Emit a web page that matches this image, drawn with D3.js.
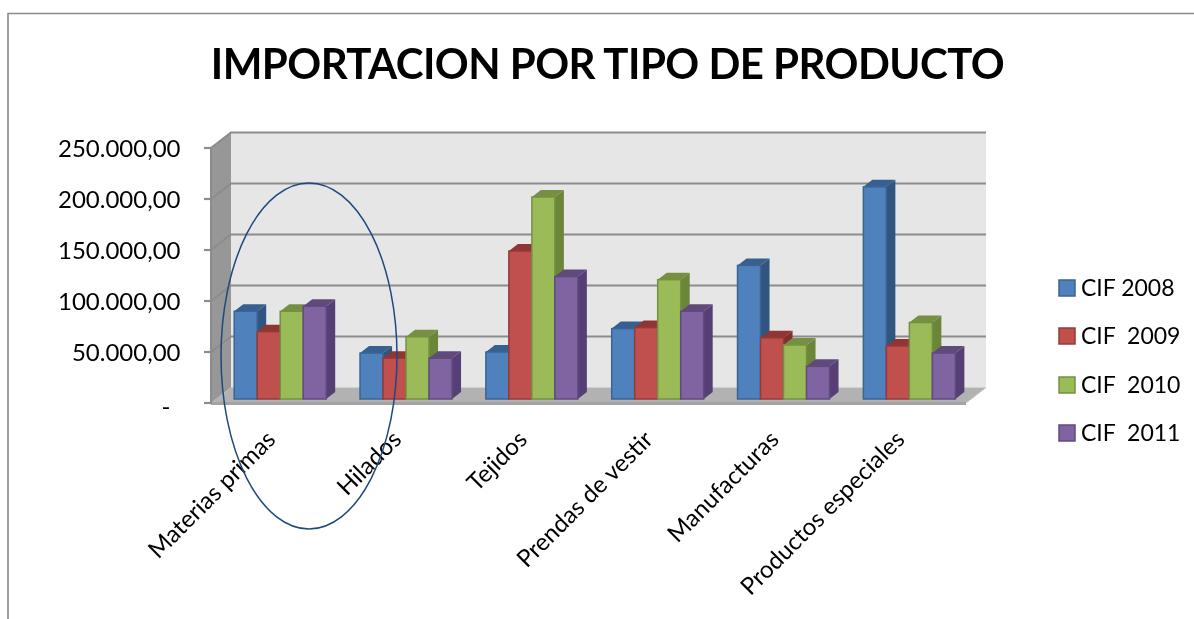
<!DOCTYPE html>
<html><head><meta charset="utf-8">
<script src="https://cdn.jsdelivr.net/npm/d3@7"></script>
<style>html,body{margin:0;background:#fff}svg{display:block;filter:blur(0.45px)}text{font-family:Lato,"Open Sans",sans-serif;fill:#000}</style>
</head><body><svg id="c" width="1194" height="619"></svg>
<script>
const categories=["Materias primas","Hilados","Tejidos","Prendas de vestir","Manufacturas","Productos especiales"];
const seriesNames=["CIF 2008","CIF  2009","CIF  2010","CIF  2011"];
const cif2008=[86000,45000,46000,69000,131000,208000];
const cif2009=[66000,40000,145000,70000,60000,52000];
const cif2010=[86000,61000,198000,117000,53000,75000];
const cif2011=[91000,40000,120000,86000,32000,45000];
const yTicks=[0,50000,100000,150000,200000,250000];
const tickLabels=["-","50.000,00","100.000,00","150.000,00","200.000,00","250.000,00"];
const colors=["#4F81BD","#C0504D","#9BBB59","#8064A2"];
const sideColors=["#30557F","#7F302E","#6B8539","#553F74"];
const topColors=["#38608F","#8F3634","#768F42","#5F4A7C"];
const edgeColors=["#3A6496","#963A38","#75913F","#604A80"];
const all=[cif2008,cif2009,cif2010,cif2011];

const svg=d3.select("#c");
const fx0=211,fx1=966,fy0=403,fy1=148,ddx=20,ddy=-15.5;
const y=d3.scaleLinear().domain([0,250000]).range([fy0,fy1]);
const x=d3.scaleBand().domain(categories).range([fx0,fx1]);
const sub=d3.scaleBand().domain(d3.range(4)).range([0,92]);

// frame
svg.append("path").attr("d","M8,619V13.5H1194").attr("fill","none").attr("stroke","#8a8a8a").attr("stroke-width",1.6);

// title
svg.append("text").attr("x",607.5).attr("y",79).attr("text-anchor","middle").attr("font-size",42).attr("font-weight",700).attr("letter-spacing",-0.55).text("IMPORTACION POR TIPO DE PRODUCTO");

// walls
const poly=(pts,fill,stroke)=>svg.append("polygon").attr("points",pts.map(p=>p.join(",")).join(" ")).attr("fill",fill).attr("stroke",stroke||"none");
poly([[fx0+ddx,fy1+ddy],[fx1+ddx,fy1+ddy],[fx1+ddx,fy0+ddy],[fx0+ddx,fy0+ddy]],"#e6e6e6");
poly([[fx0,fy1],[fx0+ddx,fy1+ddy],[fx0+ddx,fy0+ddy],[fx0,fy0]],"#979797");
poly([[fx0,fy0],[fx0+ddx,fy0+ddy],[fx1+ddx,fy0+ddy],[fx1,fy0]],"#b2b2b2");
svg.append("rect").attr("x",fx0).attr("y",fy0-1).attr("width",fx1-fx0).attr("height",3).attr("fill","#a3a3a3");

// gridlines and axis
const gc="#8c8c8c";
yTicks.forEach(t=>{
  const v=y(t);
  if(t>0) svg.append("path").attr("d",`M${fx0},${v}L${fx0+ddx},${v+ddy}H${fx1+ddx}`).attr("fill","none").attr("stroke",gc).attr("stroke-width",2.2);
  svg.append("line").attr("x1",fx0-7).attr("x2",fx0).attr("y1",v).attr("y2",v).attr("stroke",gc).attr("stroke-width",2.2);
});
svg.append("line").attr("x1",fx0).attr("x2",fx0).attr("y1",fy1).attr("y2",fy0+1).attr("stroke",gc).attr("stroke-width",2);
svg.append("path").attr("d",`M${fx1},${fy0}L${fx1+ddx},${fy0+ddy}`).attr("stroke","#c4c4c4").attr("fill","none");

const axis=d3.axisLeft(y).tickValues(yTicks).tickFormat((d,i)=>tickLabels[i]).tickSize(0).tickPadding(0);
const gA=svg.append("g").attr("transform",`translate(180.5,1.5)`).call(axis);
gA.select(".domain").remove();
gA.selectAll("text").attr("font-size",24).attr("dy","0.3em").style("font-family","Lato")
  .filter((d,i)=>i===0).attr("dx",-10).attr("dy","0.4em");

// bars
const bx=5,by=-4,bdx=9,bdy=-7;
categories.forEach((c,ci)=>{
  const g0=x(c)+bx+18.2;
  // left to right so each neighbour overlaps the previous side face
  all.forEach((s,si)=>{
    const xl=g0+sub(si),w=sub.bandwidth(),yt=y(s[ci])+by,yb=fy0+by,xr=xl+w;
    const g=svg.append("g");
    g.append("polygon").attr("points",`${xr},${yt} ${xr+bdx},${yt+bdy} ${xr+bdx},${yb+bdy} ${xr},${yb}`).attr("fill",sideColors[si]);
    g.append("polygon").attr("points",`${xl},${yt} ${xl+bdx},${yt+bdy} ${xr+bdx},${yt+bdy} ${xr},${yt}`).attr("fill",topColors[si]);
    g.append("rect").attr("x",xl).attr("y",yt).attr("width",w).attr("height",yb-yt).attr("fill",colors[si]).attr("stroke",edgeColors[si]).attr("stroke-width",1.5);
  });
});

// category labels
categories.forEach(c=>{
  const ax=x(c)+x.bandwidth()/2+3, ay=441;
  svg.append("text").attr("transform",`translate(${ax},${ay}) rotate(-45)`).attr("text-anchor","end").attr("font-size",24).text(c);
});

// legend
const lg=[288,336,385,433];
seriesNames.forEach((n,i)=>{
  svg.append("rect").attr("x",1059).attr("y",lg[i]-8).attr("width",16).attr("height",16).attr("fill",colors[i]).attr("stroke",edgeColors[i]).attr("stroke-width",1.5);
  svg.append("text").attr("x",1081).attr("y",lg[i]+8).attr("font-size",23).style("white-space","pre").text(n);
});

// annotation ellipse
svg.append("ellipse").attr("cx",309).attr("cy",356).attr("rx",88).attr("ry",173).attr("fill","none").attr("stroke","#1F497D").attr("stroke-width",1.5);
</script></body></html>
